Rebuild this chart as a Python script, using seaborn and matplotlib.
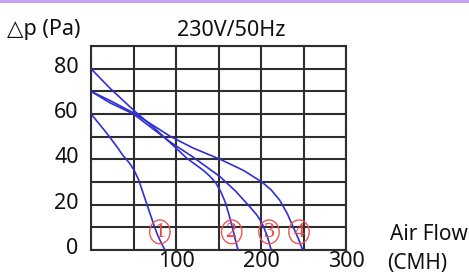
import numpy as np
import pandas as pd
import matplotlib
matplotlib.use('Agg')
import matplotlib.pyplot as plt
import matplotlib.transforms as mtransforms
from matplotlib.patches import Ellipse, Rectangle
import seaborn as sns

# fan curves: air flow (CMH) vs static pressure (Pa)
flow_1 = [0, 10, 20, 30, 38, 45, 51, 56, 60.5, 65, 69.5, 74, 79, 83.5, 87]
pres_1 = [60, 55.5, 50.8, 45.8, 41.5, 38.5, 35, 31, 26, 21, 16, 11, 6, 2.5, 0]

flow_2 = [0, 22, 50, 73, 97, 113, 132, 140, 147, 153, 158, 162, 166, 169.5, 173]
pres_2 = [80, 71.5, 61.7, 54.3, 46, 40.4, 35.2, 32.5, 29.5, 25.5, 21, 16, 10.5, 5, 0]

flow_3 = [0, 22, 50, 93, 120, 152, 170, 187, 195, 201, 207, 212]
pres_3 = [70, 65, 60, 47.7, 41, 32.3, 26, 19, 15.5, 12, 6.5, 0]

flow_4 = [0, 22, 50, 93, 120, 152, 180, 201, 212, 222, 231, 238, 244, 249]
pres_4 = [70, 66, 60.5, 50.2, 45, 40, 35, 30, 26.5, 22, 16, 10, 5, 0]

curve_names = ['1', '2', '3', '4']
label_x = [81, 165.5, 209.4, 244.7]
label_y = 8

x_ticks = [100, 200, 300]
y_ticks = [0, 20, 40, 60, 80]

frames = []
for name, fx, py in zip(curve_names, [flow_1, flow_2, flow_3, flow_4], [pres_1, pres_2, pres_3, pres_4]):
    frames.append(pd.DataFrame({'flow': fx, 'pressure': py, 'curve': name}))
df = pd.concat(frames, ignore_index=True)

sns.set_theme(style='white')
plt.rcParams['font.family'] = ['Noto Sans', 'DejaVu Sans']

fig = plt.figure(figsize=(4.69, 2.78), dpi=100)
fig.patches.append(Rectangle((0, 1 - 2.5 / 278), 1, 2.5 / 278, transform=fig.transFigure,
                             facecolor='#c9a0f2', edgecolor='none'))
ax = fig.add_axes([91 / 469, 28 / 278, 255 / 469, 204 / 278])

sns.lineplot(data=df, x='flow', y='pressure', hue='curve', units='curve', estimator=None,
             sort=False, palette=['#3030d2'] * 4, linewidth=1.2, legend=False, ax=ax, zorder=3)

ax.set_xlim(0, 300)
ax.set_ylim(0, 90)
ax.set_xticks(x_ticks)
ax.set_xticks(np.arange(0, 301, 50), minor=True)
ax.set_yticks(y_ticks)
ax.set_yticks(np.arange(0, 91, 10), minor=True)
ax.grid(which='both', color='#2e2e2e', linewidth=1.5)
ax.tick_params(which='both', length=0)
ax.tick_params(axis='x', pad=1, labelsize=15.5, colors='#111111')
ax.tick_params(axis='y', pad=9, labelsize=15.5, colors='#111111')
for sp in ax.spines.values():
    sp.set_color('#2e2e2e')
    sp.set_linewidth(1.5)
ax.set_xlabel('')
ax.set_ylabel('')

# y labels sit a little above their gridline
shift = mtransforms.ScaledTranslation(0, 4 / 100, fig.dpi_scale_trans)
for lab in ax.get_yticklabels():
    lab.set_transform(lab.get_transform() + shift)

# circled curve numbers
for name, lx in zip(curve_names, label_x):
    ax.add_patch(Ellipse((lx, label_y), 24, 10.5, facecolor='none', edgecolor='#ee5555',
                         linewidth=1.0, zorder=4))
    ax.text(lx, label_y - 0.3, name, color='#ee4444', fontsize=16, ha='center', va='center', zorder=4,
            family='Liberation Serif')

fig.text(7 / 469, 1 - 30 / 278, '\u25b3p (Pa)', fontsize=15.5, ha='left', va='center', color='#111111',
         family=['Noto Sans', 'DejaVu Sans'])
fig.text(231 / 469, 1 - 30 / 278, '230V/50Hz', fontsize=15.5, ha='center', va='center', color='#111111')
fig.text(390 / 469, 1 - 234 / 278, 'Air Flow', fontsize=15, ha='left', va='center', color='#111111')
fig.text(387 / 469, 1 - 263 / 278, '(CMH)', fontsize=15, ha='left', va='center', color='#111111')

fig.savefig('out.png', dpi=100)
